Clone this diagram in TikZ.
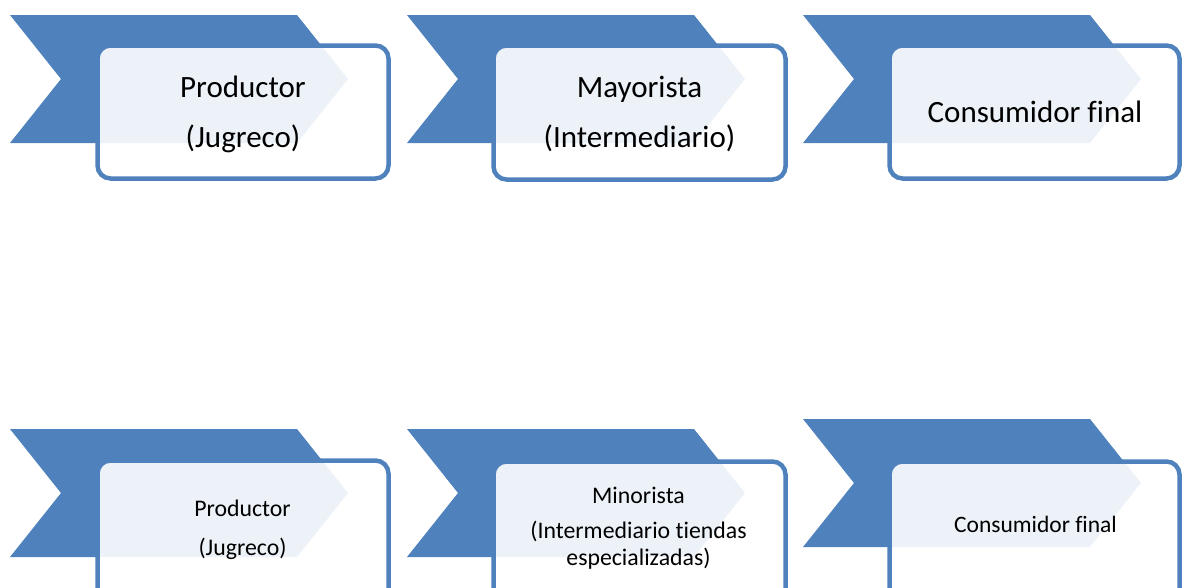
\documentclass[tikz,border=0pt]{standalone}
\usepackage{fontspec}
\setmainfont{Carlito}[Ligatures=NoCommon]
\definecolor{accent}{HTML}{4F81BD}
\begin{document}
\begin{tikzpicture}[x=1pt,y=-1pt,
  chev/.style={fill=accent, draw=none},
  card/.style={draw=accent, line width=4.5pt, rounded corners=13pt, fill=white, fill opacity=0.9},
  lbl/.style={anchor=base, inner sep=0pt, text=black, text opacity=1},
  big/.style={lbl, font=\fontsize{31}{36}\selectfont},
  bigc/.style={lbl, font=\fontsize{31}{36}\selectfont},
  small/.style={lbl, font=\fontsize{23.8}{28}\selectfont},
  smallc/.style={lbl, font=\fontsize{23.5}{28}\selectfont},
]
\useasboundingbox (0,0) rectangle (1184,587);
\clip (0,0) rectangle (1184,587);
% row 1 chevrons
\foreach \L in {10,407,803}{
  \fill[chev] (\L,15) -- (\L+287,15) -- (\L+338,79) -- (\L+287,143) -- (\L,143) -- (\L+51,79) -- cycle;
}
% row 2 chevrons
\foreach \L/\T in {10/429,407/429,803/419}{
  \fill[chev] (\L,\T) -- (\L+287,\T) -- (\L+338,\T+64) -- (\L+287,\T+128) -- (\L,\T+128) -- (\L+51,\T+64) -- cycle;
}
% row 1 cards
\draw[card] (97.5,45.5) rectangle (388.5,178.5);
\draw[card] (493.5,45.5) rectangle (785.5,179.5);
\draw[card] (889.5,45.5) rectangle (1179.5,178.5);
% row 2 cards
\draw[card] (97.5,460.5) rectangle (388.5,640);
\draw[card] (493.5,461.5) rectangle (785.5,640);
\draw[card] (889.5,461.5) rectangle (1179.5,640);
% row 1 texts
\node[big] (p1a) at (243,97) {Productor};
\node[big] (p1b) at (243,147) {(Jugreco)};
\node[big] (m1a) at (639.5,97) {Mayorista};
\node[big] (m1b) at (639.5,147) {(Intermediario)};
\node[bigc] (c1) at (1035,122) {Consumidor final};
% row 2 texts
\node[small] (p2a) at (242.5,516) {Productor};
\node[small] (p2b) at (242.5,555) {(Jugreco)};
\node[small] (m2a) at (638.5,503) {Minorista};
\node[small] (m2b) at (638.5,538) {(Intermediario tiendas};
\node[small] (m2c) at (638.5,565) {especializadas)};
\node[smallc] (c2) at (1035.5,532) {Consumidor final};
\end{tikzpicture}
\end{document}
